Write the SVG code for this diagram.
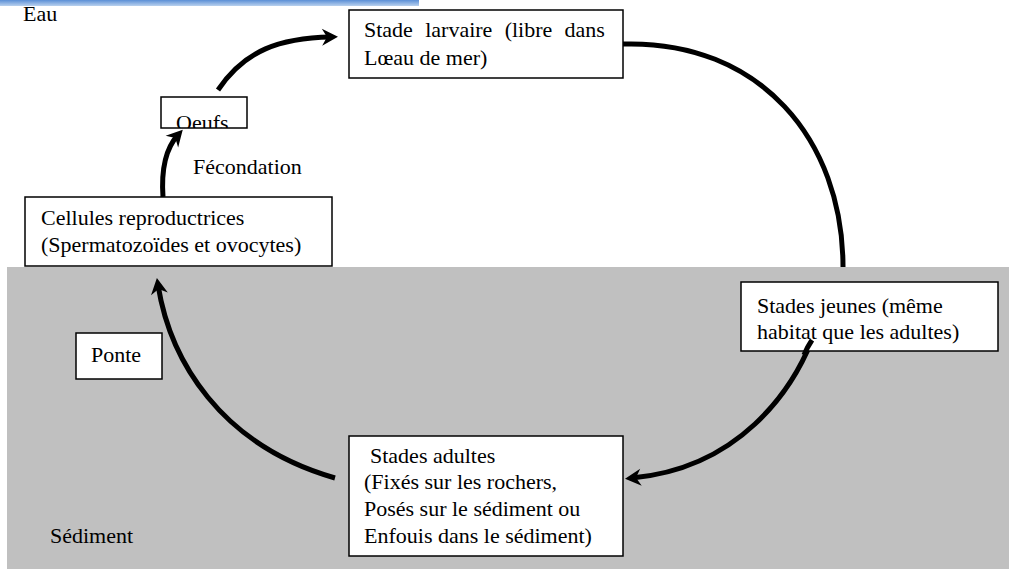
<svg xmlns="http://www.w3.org/2000/svg" width="1009" height="571" viewBox="0 0 1009 571">
<style>
.box{fill:#fff;stroke:#000;stroke-width:1.5}
.t{font-family:"Liberation Serif","Times New Roman",serif;font-size:22px;fill:#000}
.c{fill:none;stroke:#000;stroke-width:5;marker-end:url(#ah)}
.cn{fill:none;stroke:#000;stroke-width:5}
</style>
<defs>
<linearGradient id="bar" x1="0" y1="0" x2="0" y2="1">
<stop offset="0" stop-color="#5b8fd6"/>
<stop offset="1" stop-color="#b9d1ee"/>
</linearGradient>
<marker id="ah" markerUnits="userSpaceOnUse" markerWidth="24" markerHeight="24" viewBox="-12 -12 24 24" refX="0" refY="0" orient="auto" overflow="visible">
<path d="M7,0 L-9,-8.5 L-4,0 L-9,8.5 Z" fill="#000"/>
</marker>
<clipPath id="oclip"><rect x="161" y="97" width="86" height="31"/></clipPath>
</defs>
<rect x="0" y="0" width="1009" height="571" fill="#fff"/>
<rect x="0" y="0" width="419" height="6" fill="url(#bar)"/>
<rect x="7" y="267" width="1002" height="302" fill="#c0c0c0"/>
<text class="t" x="23" y="21">Eau</text>
<text class="t" x="50" y="543">Sédiment</text>
<text class="t" x="193" y="174">Fécondation</text>

<g id="connectors">
<path class="c" d="M218,90 C245,50 280,38 331,37"/>
<path class="cn" d="M623,44 C760,40 843,140 843,267"/>
<path class="c" d="M812,340 C792,390 740,468 632,478"/>
<path class="c" d="M335,478 C220,445 170,360 158,285"/>
<path class="c" d="M163,197 C161,168 166,148 178,135"/>
</g>

<g id="larvaire">
<rect class="box" x="349" y="10" width="274" height="68"/>
<text class="t" x="364" y="37" word-spacing="6.8">Stade larvaire (libre dans</text>
<text class="t" x="364" y="65">Lœau de mer)</text>
</g>
<g id="oeufs">
<rect class="box" x="161" y="97" width="86" height="31"/>
<text class="t" x="176" y="130" clip-path="url(#oclip)">Oeufs</text>
</g>
<g id="cellules">
<rect class="box" x="25" y="197" width="307" height="69"/>
<text class="t" x="41" y="225">Cellules reproductrices</text>
<text class="t" x="41" y="252">(Spermatozoïdes et ovocytes)</text>
</g>
<g id="jeunes">
<rect class="box" x="741" y="282" width="257" height="69"/>
<text class="t" x="757" y="313">Stades jeunes (même</text>
<text class="t" x="757" y="339">habitat que les adultes)</text>
</g>
<path d="M812,340 C808,346 806,350 804,355" class="cn"/>
<g id="ponte">
<rect class="box" x="76" y="333" width="86" height="46"/>
<text class="t" x="91" y="362">Ponte</text>
</g>
<g id="adultes">
<rect class="box" x="349" y="436" width="274" height="120"/>
<text class="t" x="370" y="463">Stades adultes</text>
<text class="t" x="364" y="489">(Fixés sur les rochers,</text>
<text class="t" x="364" y="516">Posés sur le sédiment ou</text>
<text class="t" x="364" y="543">Enfouis dans le sédiment)</text>
</g>
</svg>
